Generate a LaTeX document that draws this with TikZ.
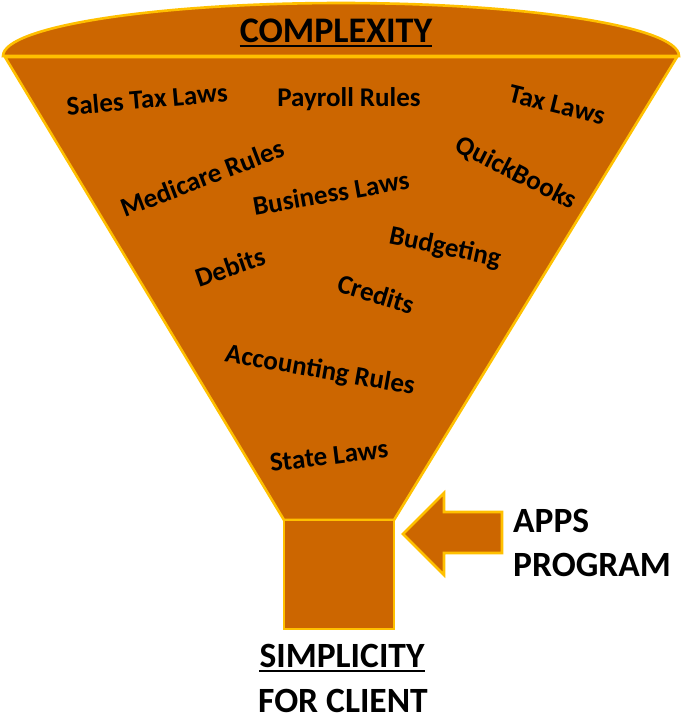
\documentclass[tikz,border=0pt]{standalone}
\usepackage{fontspec}
\setmainfont{Carlito}
\definecolor{funfill}{HTML}{CC6600}
\definecolor{funline}{HTML}{FFC000}
\begin{document}
\begin{tikzpicture}[x=1pt,y=-1pt,
  shapestyle/.style={fill=funfill,draw=funline,line width=2.6pt,line join=miter},
  itemtext/.style={font=\fontsize{27}{31}\selectfont\bfseries,inner sep=0pt},
  bigtext/.style={font=\fontsize{35.5}{40}\selectfont\bfseries,inner sep=0pt},
  titletext/.style={font=\fontsize{36}{42}\selectfont\bfseries,inner sep=0pt},
  uline/.style={line width=2.4pt}]
\useasboundingbox (0,0) rectangle (683,721);
% funnel top (ellipse)
\draw[shapestyle] (3,56) arc[start angle=180,end angle=0,x radius=338pt,y radius=53pt] -- cycle;
% cone
\draw[shapestyle] (5,57) -- (677,57) -- (394,520) -- (284,520) -- cycle;
% neck
\draw[shapestyle] (284,520) rectangle (394,629);
% arrow
\draw[shapestyle] (403,534) -- (444,493) -- (444,512) -- (502,512) -- (502,553) -- (444,553) -- (444,575) -- cycle;
% title
\node[titletext,anchor=base] (cx) at (336,42) {COMPLEXITY};
\draw[uline] ([yshift=-4pt]cx.base west) -- ([yshift=-4pt]cx.base east);
% items
\node[itemtext,rotate=5]   (st) at (147,99) {Sales Tax Laws};
\node[itemtext]            (pr) at (349,99) {Payroll Rules};
\node[itemtext,rotate=-14] (tl) at (557,105) {Tax Laws};
\node[itemtext,rotate=21]  (mr) at (202,178) {Medicare Rules};
\node[itemtext,rotate=10]  (bl) at (331,193) {Business Laws};
\node[itemtext,rotate=-27] (qb) at (516,173) {QuickBooks};
\node[itemtext,rotate=19]  (db) at (230,267) {Debits};
\node[itemtext,rotate=-12] (bg) at (445,248) {Budgeting};
\node[itemtext,rotate=-17] (cr) at (376,294) {Credits};
\node[itemtext,rotate=-10] (ar) at (320,371) {Accounting Rules};
\node[itemtext,rotate=7]   (sl) at (329,456) {State Laws};
% apps program
\node[bigtext,anchor=base west] (ap) at (513,532) {APPS};
\node[bigtext,anchor=base west] (pg) at (513,576) {PROGRAM};
% simplicity
\node[bigtext,anchor=base] (sp) at (342,667) {SIMPLICITY};
\draw[uline] ([yshift=-4pt]sp.base west) -- ([yshift=-4pt]sp.base east);
\node[bigtext,anchor=base] (fc) at (343,712) {FOR CLIENT};
\end{tikzpicture}
\end{document}
